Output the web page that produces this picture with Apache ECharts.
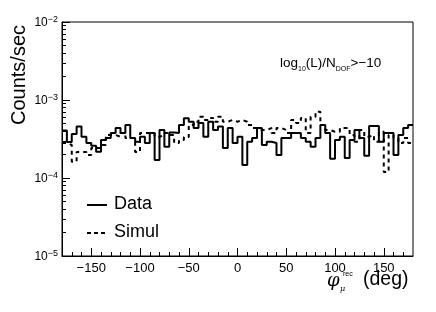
<!DOCTYPE html>
<html><head><meta charset="utf-8">
<script src="https://cdn.jsdelivr.net/npm/echarts@6/dist/echarts.min.js"></script>
<style>html,body{margin:0;padding:0;background:#fff}#c{width:436px;height:312px}</style>
</head><body><div id="c"></div>
<script>
// Bin definition: 72 bins of 5 degrees from -180 to 180
const phiMin = -180, phiMax = 180, binWidth = 5;
// Counts/sec per bin
const dataValues = [
 4.05e-4,2.9e-4,3.67e-4,4.57e-4,3.38e-4,2.81e-4,2.6e-4,2.17e-4,3.07e-4,3.26e-4,
 3.78e-4,4.37e-4,3.78e-4,4.78e-4,3.26e-4,2.92e-4,3.38e-4,2.81e-4,3.78e-4,1.7e-4,
 4.12e-4,2.52e-4,3.83e-4,3.78e-4,4.78e-4,5.83e-4,5.27e-4,4.37e-4,5.07e-4,3.38e-4,
 5.27e-4,4.12e-4,4.57e-4,2.43e-4,4.37e-4,2.81e-4,3.38e-4,1.47e-4,2.92e-4,3.26e-4,
 4.37e-4,2.65e-4,2.92e-4,2.81e-4,1.97e-4,3.26e-4,3.26e-4,3.78e-4,3.78e-4,3.26e-4,
 2.92e-4,2.52e-4,3.26e-4,4.78e-4,3.78e-4,1.76e-4,3.07e-4,3.38e-4,1.8e-4,3.07e-4,
 4.12e-4,3.26e-4,1.93e-4,4.64e-4,4.64e-4,2.92e-4,3.78e-4,3.78e-4,1.97e-4,3.56e-4,
 4.37e-4,4.78e-4
];
const simulValues = [
 2.81e-4,2.65e-4,1.62e-4,2.16e-4,2.16e-4,1.97e-4,2.43e-4,2.43e-4,2.65e-4,3.56e-4,
 3.56e-4,3.38e-4,3.78e-4,3.26e-4,3.26e-4,2.16e-4,3.78e-4,3.78e-4,3.78e-4,3.38e-4,
 3.56e-4,3.78e-4,3.56e-4,2.81e-4,3.07e-4,3.35e-4,4.78e-4,5.27e-4,6.11e-4,5.54e-4,
 5.88e-4,5.27e-4,6.11e-4,5.27e-4,5.54e-4,5.27e-4,5.54e-4,5.27e-4,4.78e-4,4.37e-4,
 4.12e-4,4.12e-4,4.37e-4,3.78e-4,4.37e-4,4.12e-4,3.78e-4,5.54e-4,5.07e-4,5.88e-4,
 3.78e-4,6.11e-4,7.08e-4,4.78e-4,4.12e-4,3.92e-4,3.92e-4,4.37e-4,4.37e-4,3.56e-4,
 2.92e-4,4.12e-4,3.38e-4,3.56e-4,2.92e-4,3.92e-4,1.19e-4,3.56e-4,3.26e-4,2.81e-4,
 3.26e-4,2.81e-4
];
const xMajorLabels = [-150,-100,-50,0,50,100,150];
const xMinorTicks = [-170,-160,-140,-130,-120,-110,-90,-80,-70,-60,-40,-30,-20,-10,10,20,30,40,60,70,80,90,110,120,130,140,160,170];
const seriesNames = ['Data','Simul'];

function steps(vals){
  const pts = vals.map((v,i)=>[phiMin + i*binWidth, v]);
  pts.push([phiMax, vals[vals.length-1]]);
  return pts;
}
const yMinor = [];
[-5,-4,-3].forEach(n=>{for(let m=2;m<=9;m++) yMinor.push(Math.log10(m)+n);});

const F = 'Liberation Sans, Arial, Helvetica, sans-serif';
const chart = echarts.init(document.getElementById('c'), null, {renderer:'canvas'});
chart.setOption({
  animation:false,
  backgroundColor:'#fff',
  grid:{left:62,right:23,top:22,bottom:56,show:true,borderColor:'#000',borderWidth:1,backgroundColor:'transparent'},
  xAxis:[{
    type:'value', min:phiMin, max:phiMax,
    axisLine:{show:true,onZero:false,lineStyle:{color:'#000',width:1}},
    splitLine:{show:false},
    axisTick:{show:true,inside:true,length:8,customValues:xMajorLabels,lineStyle:{color:'#000',width:1}},
    axisLabel:{customValues:xMajorLabels,fontFamily:F,fontSize:13,color:'#000',margin:6,
      formatter:v=> v<0 ? '\u2212'+Math.abs(v) : ''+v}
  },{
    type:'value', min:phiMin, max:phiMax, position:'bottom',
    axisLine:{show:false,onZero:false}, splitLine:{show:false}, axisLabel:{show:false},
    axisTick:{show:true,inside:true,length:4,customValues:xMinorTicks,lineStyle:{color:'#000',width:1}}
  }],
  yAxis:[{
    type:'log', logBase:10, min:1e-5, max:1e-2,
    axisLine:{show:true,onZero:false,lineStyle:{color:'#000',width:1}},
    splitLine:{show:false},
    axisTick:{show:true,inside:true,length:8,lineStyle:{color:'#000',width:1}},
    axisLabel:{fontFamily:F,color:'#000',margin:4,
      formatter:v=>{const e=Math.round(Math.log10(v));return '{b|10}{e|\u2212'+Math.abs(e)+'}';},
      rich:{b:{fontFamily:F,fontSize:12,lineHeight:14,verticalAlign:'bottom'},
            e:{fontFamily:F,fontSize:9,lineHeight:10,verticalAlign:'top'}}}
  },{
    type:'value', min:-5, max:-2, position:'left',
    axisLine:{show:false,onZero:false}, splitLine:{show:false}, axisLabel:{show:false},
    axisTick:{show:true,inside:true,length:4,customValues:yMinor,lineStyle:{color:'#000',width:1}}
  }],
  graphic:[
    {type:'text',x:9,y:125,rotation:Math.PI/2,style:{fontFamily:F,fontSize:20,text:'Counts/sec',fill:'#000',textAlign:'left',textVerticalAlign:'top'}},
    {type:'text',left:280,top:56,style:{fontFamily:F,
      text:'{a|log}{s|10}{a|(L)/N}{s|DOF}{a|>\u221210}',
      rich:{a:{fontFamily:F,fontSize:13.5,lineHeight:17,verticalAlign:'top'},
            s:{fontFamily:F,fontSize:7,lineHeight:8,verticalAlign:'bottom'}}}},
    {type:'line',shape:{x1:87,y1:205,x2:107,y2:205},style:{stroke:'#000',lineWidth:2}},
    {type:'text',left:114,top:195,style:{fontFamily:F,fontSize:18,text:'Data',fill:'#000'}},
    {type:'line',shape:{x1:87,y1:233,x2:107,y2:233},style:{stroke:'#000',lineWidth:2,lineDash:[4,3]}},
    {type:'text',left:114,top:223,style:{fontFamily:F,fontSize:18,text:'Simul',fill:'#000'}},
    {type:'text',left:327,top:272,style:{fontFamily:'DejaVu Serif, serif',fontStyle:'italic',fontSize:18,text:'\u03c6'}},
    {type:'text',left:340,top:285,style:{fontFamily:'DejaVu Serif, serif',fontStyle:'italic',fontSize:8,text:'\u03bc'}},
    {type:'text',left:343,top:271,style:{fontFamily:F,fontSize:7,text:'rec'}},
    {type:'text',left:363,top:270,style:{fontFamily:F,fontSize:19.5,text:'(deg)'}}
  ],
  series:[
    {name:'Data',type:'line',step:'end',data:steps(dataValues),symbol:'none',
     lineStyle:{color:'#000',width:2,type:'solid'},itemStyle:{color:'#000'}},
    {name:'Simul',type:'line',step:'end',data:steps(simulValues),symbol:'none',
     lineStyle:{color:'#000',width:2,type:[4,4]},itemStyle:{color:'#000'}}
  ]
});
</script></body></html>
